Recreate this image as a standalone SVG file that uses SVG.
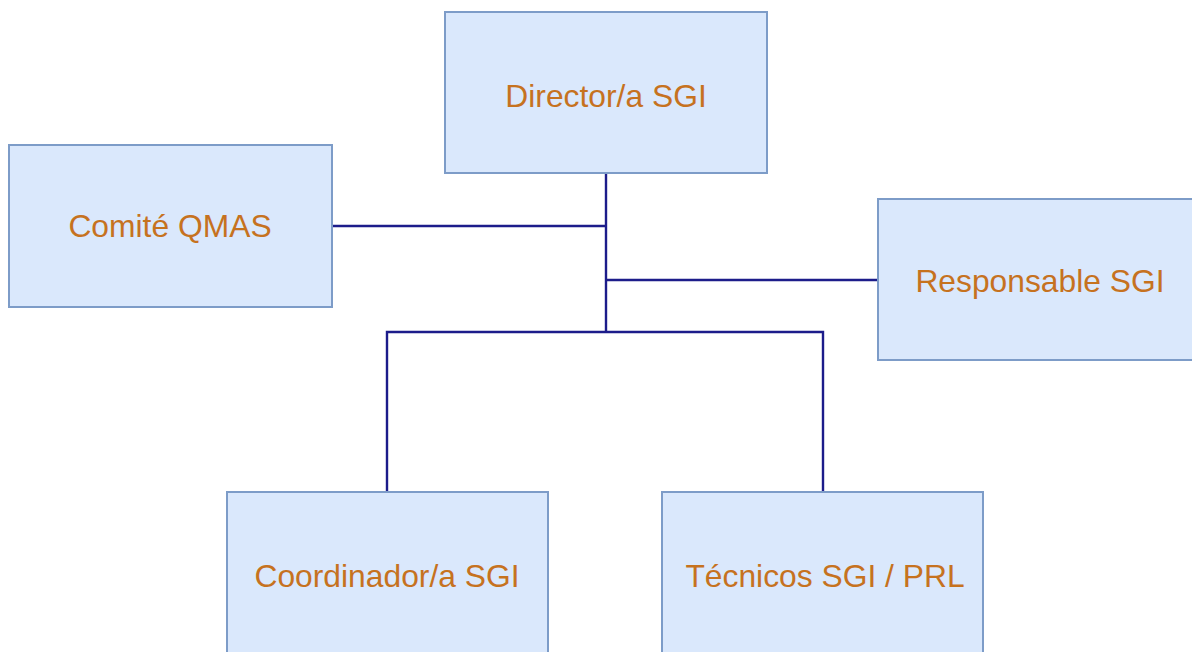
<svg xmlns="http://www.w3.org/2000/svg" width="1192" height="652" viewBox="0 0 1192 652">
<style>
.box{fill:#dae8fc;stroke:#7d9cc8;stroke-width:2}
.lbl{font-family:"Liberation Sans",Arial,sans-serif;font-size:31.8px;fill:#c6721f;text-anchor:middle;dominant-baseline:central}
.con{fill:none;stroke:#1c1c8a;stroke-width:2.4}
</style>
<rect width="1192" height="652" fill="#ffffff"/>
<g id="connectors">
<path class="con" d="M606,173 V332"/>
<path class="con" d="M332,226 H606"/>
<path class="con" d="M606,280 H878"/>
<path class="con" d="M387,492 V332 H823 V492"/>
</g>
<g id="director"><rect class="box" x="445" y="12" width="322" height="161"/><text class="lbl" x="606" y="96">Director/a SGI</text></g>
<g id="comite"><rect class="box" x="9" y="145" width="323" height="162"/><text class="lbl" x="170" y="226">Comité QMAS</text></g>
<g id="responsable"><rect class="box" x="878" y="199" width="320" height="161"/><text class="lbl" x="1040" y="281">Responsable SGI</text></g>
<g id="coordinador"><rect class="box" x="227" y="492" width="321" height="170"/><text class="lbl" x="387" y="576">Coordinador/a SGI</text></g>
<g id="tecnicos"><rect class="box" x="662" y="492" width="321" height="170"/><text class="lbl" x="825" y="576">Técnicos SGI / PRL</text></g>
</svg>
